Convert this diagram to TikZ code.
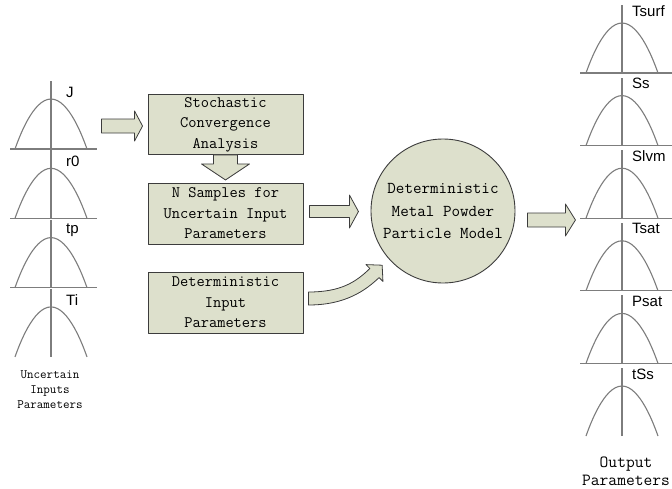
\documentclass[tikz,border=0pt]{standalone}
\usepackage{fontspec}
\setsansfont{Liberation Sans}
\usetikzlibrary{calc,positioning}
\definecolor{boxfill}{RGB}{221,224,204}
\definecolor{boxline}{RGB}{60,60,60}
\definecolor{bellgray}{RGB}{125,125,125}

\begin{document}
\begin{tikzpicture}[x=1pt, y=-1pt, line join=round,
  stage/.style={draw=boxline, fill=boxfill, line width=0.9pt,
    minimum width=155pt, minimum height=60pt, inner sep=0pt, align=center,
    font=\fontsize{16}{20.5}\selectfont\ttfamily},
  model/.style={circle, draw=boxline, fill=boxfill, line width=0.9pt,
    minimum size=144pt, inner sep=0pt, align=center,
    font=\fontsize{16.6}{22.5}\selectfont\ttfamily},
  caption/.style={align=center, inner sep=0pt},
  param/.style={anchor=west, inner sep=0pt, font=\fontsize{15}{15}\selectfont\sffamily},
  bellline/.style={draw=bellgray, line width=1.1pt},
  blockarrow/.style={draw=boxline, fill=boxfill, line width=0.8pt},
  % distribution sketch: parabola with its mean line
  pics/bell/.style={code={
    \draw[bellline] (-36,0) parabola bend (0,-50) (36,0);
    \draw[bellline] (0,0) -- (0,-68);
  }},
  % block arrow: length, shaft half width, head half width, head length
  pics/fatarrow/.style n args={4}{code={
    \filldraw[blockarrow] (0,-#2) -- (#1-#4,-#2) -- (#1-#4,-#3) -- (#1,0)
      -- (#1-#4,#3) -- (#1-#4,#2) -- (0,#2) -- cycle;
  }}]
\useasboundingbox (0,0) rectangle (672,488);

% uncertain inputs
\foreach \lbl [count=\i from 0] in {J,r0,tp,Ti}{
  \pgfmathsetmacro{\by}{149+69.3*\i}
  \pic (in\i) at (51,\by) {bell};
  \ifnum\i<3 \draw[bellline] (10,\by) -- (97,\by); \fi
  \node[param] (in-\lbl) at (66,\by-57) {\lbl};
}
\node[caption, font=\fontsize{12.7}{15}\selectfont\ttfamily] (inlbl) at (50,390)
  {Uncertain\\Inputs\\Parameters};

% outputs
\foreach \lbl [count=\i from 0] in {Tsurf,Ss,Slvm,Tsat,Psat,tSs}{
  \pgfmathsetmacro{\by}{73+72.6*\i}
  \pic (out\i) at (622,\by) {bell};
  \ifnum\i<5 \draw[bellline] (580,\by) -- (680,\by); \fi
  \node[param] (out-\lbl) at (632,\by-62) {\lbl};
}
\node[caption, font=\fontsize{17}{18.5}\selectfont\ttfamily] (outlbl) at (626,471)
  {Output\\Parameters};

% process boxes and model
\node[stage] (stoch) at (225.5,124.5) {Stochastic\\Convergence\\Analysis};
\node[stage, minimum height=61pt] (smp) at (225.5,213.5) {N Samples for\\Uncertain Input\\Parameters};
\node[stage, minimum height=61pt] (detin) at (225.5,302.5) {Deterministic\\Input\\Parameters};
\node[model] (mdl) at (443,211) {Deterministic\\Metal Powder\\Particle Model};

% block arrows
\pic at ($(stoch.west)+(-46,1.5)$) {fatarrow={41}{7}{15}{8}};
\pic[rotate=-90] at (stoch.south) {fatarrow={25}{12}{24}{16}};
\pic at ($(smp.east)+(6,-2)$) {fatarrow={49}{6}{16.5}{9}};
\pic at ($(mdl.east)+(12,9)$) {fatarrow={48}{7}{16}{10}};
\begin{scope}[shift={(detin.east)}]
  \filldraw[blockarrow] (5,2.5) .. controls (42,2.5) and (62,-12) .. (75.6,-24.9)
    -- (79.5,-21.1) -- (78.7,-37.3) -- (62.5,-37.9) -- (66.4,-34)
    .. controls (52,-20) and (37,-10.5) .. (5,-10.5) -- cycle;
\end{scope}
\end{tikzpicture}
\end{document}
